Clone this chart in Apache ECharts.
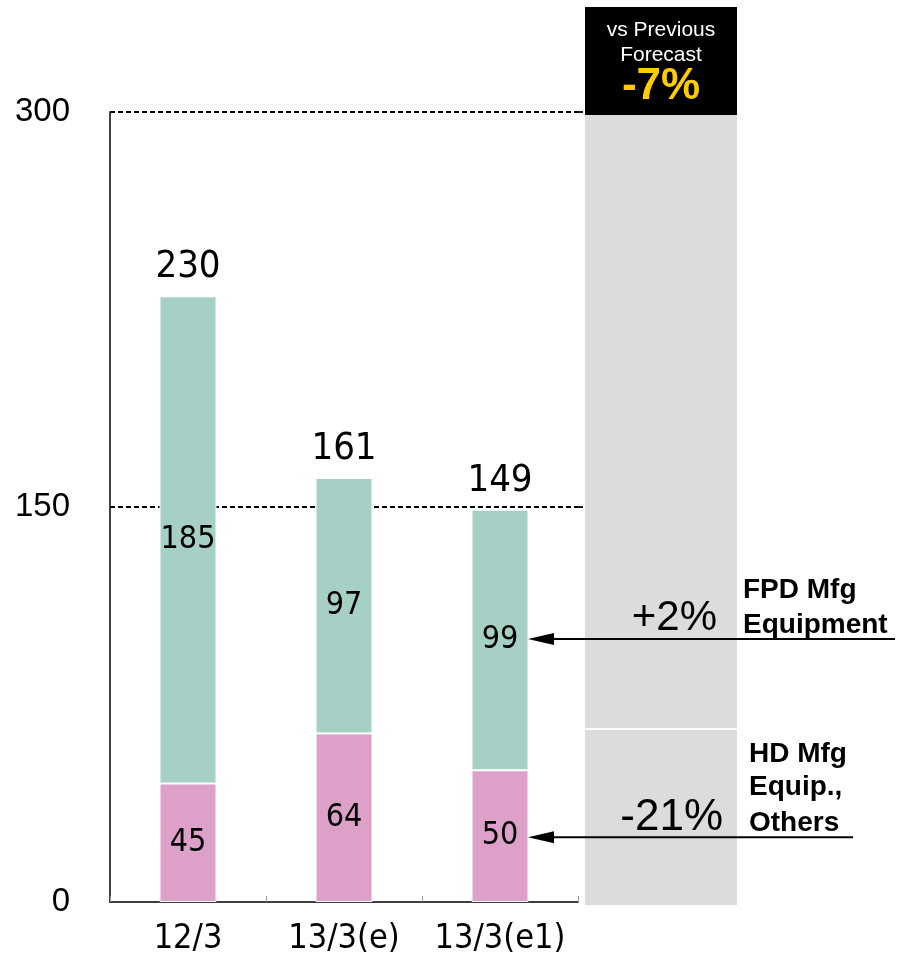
<!DOCTYPE html>
<html>
<head>
<meta charset="utf-8">
<style>
  html, body { margin: 0; padding: 0; background: #fff; }
  #chart { width: 913px; height: 963px; }
</style>
<script src="https://cdn.jsdelivr.net/npm/echarts@6/dist/echarts.min.js"></script>
</head>
<body>
<div id="chart"></div>
<script>
// Sales by segment (billion yen)
const categories = ['12/3', '13/3(e)', '13/3(e1)'];
const hdValues = [45, 64, 50];      // HD Mfg Equip., Others
const fpdValues = [185, 97, 99];    // FPD Mfg Equipment
const totals = [230, 161, 149];
const yTicks = [0, 150, 300];

const numFont = '"DejaVu Sans Condensed", "Liberation Sans Narrow", "Noto Sans CJK JP", sans-serif';
const latinFont = '"Liberation Sans", Arial, sans-serif';

const chart = echarts.init(document.getElementById('chart'));

const option = {
  animation: false,
  backgroundColor: '#fff',
  grid: { left: 110, right: 335, top: 112, bottom: 61 },
  xAxis: {
    type: 'category',
    data: categories,
    axisLine: { lineStyle: { color: '#000', width: 1.5 } },
    axisTick: { show: true, inside: true, length: 6, interval: 0, lineStyle: { color: '#999' } },
    axisLabel: { fontSize: 34, color: '#000', fontFamily: numFont, margin: 20, interval: 0 }
  },
  yAxis: {
    type: 'value',
    min: yTicks[0],
    max: yTicks[yTicks.length - 1],
    interval: yTicks[1] - yTicks[0],
    axisLine: { show: true, lineStyle: { color: '#000', width: 1.5 } },
    axisTick: { show: false },
    axisLabel: { fontSize: 33, color: '#000', fontFamily: latinFont, margin: 40 },
    splitLine: {
      show: true,
      lineStyle: { color: '#000', type: [5, 3], width: 1.8 },
      showMinLine: false
    }
  },
  series: [
    {
      name: 'HD Mfg Equip., Others',
      type: 'bar',
      stack: 'sales',
      barWidth: 57,
      data: hdValues,
      itemStyle: { color: '#dda0c8', borderColor: '#fff', borderWidth: 1 },
      label: { show: true, position: 'inside', fontSize: 32, color: '#000', fontFamily: numFont }
    },
    {
      name: 'FPD Mfg Equipment',
      type: 'bar',
      stack: 'sales',
      barWidth: 57,
      data: fpdValues,
      itemStyle: { color: '#a6cfc5', borderColor: '#fff', borderWidth: 1 },
      label: { show: true, position: 'inside', fontSize: 32, color: '#000', fontFamily: numFont }
    },
    {
      name: 'Total',
      type: 'bar',
      barWidth: 57,
      barGap: '-100%',
      data: totals,
      z: 1,
      itemStyle: { color: 'rgba(0,0,0,0)' },
      label: { show: true, position: 'top', distance: 10, fontSize: 38, color: '#000', fontFamily: numFont }
    }
  ]
};

chart.setOption(option);

// Side panel: change vs previous forecast, with arrows to the last bar's segments
const px = (v) => chart.convertToPixel({ yAxisIndex: 0 }, v);
const last = categories.length - 1;
const barRight = chart.convertToPixel({ xAxisIndex: 0 }, last) + 28;
const yFpd = px(hdValues[last] + fpdValues[last] / 2) - 1;
const yHd = px(hdValues[last] / 2) + 1;
const yTop = px(yTicks[yTicks.length - 1]);
const yBase = px(0);

const bandL = 585, bandR = 737;
const mid = (bandL + bandR) / 2;

function arrow(y, xEnd) {
  return [
    { type: 'line', shape: { x1: barRight + 22, y1: y, x2: xEnd, y2: y }, style: { stroke: '#000', lineWidth: 2 }, z: 10 },
    { type: 'polygon', shape: { points: [[barRight, y], [barRight + 26, y - 6], [barRight + 26, y + 6]] }, style: { fill: '#000' }, z: 10 }
  ];
}

function label(x, y, text, font, align, fill) {
  return { type: 'text', x: x, y: y, z: 6,
    style: { text: text, fill: fill || '#000', font: font, align: align, verticalAlign: 'middle' } };
}

chart.setOption({
  graphic: [
    // dashed guide lines continue up to the panel edge
    { type: 'line', shape: { x1: 578, y1: yTop, x2: bandL - 1, y2: yTop }, style: { stroke: '#000', lineWidth: 1.8, lineDash: [5, 3] } },
    { type: 'line', shape: { x1: 578, y1: px(150), x2: bandL - 1, y2: px(150) }, style: { stroke: '#000', lineWidth: 1.8, lineDash: [5, 3] } },

    { type: 'rect', shape: { x: bandL, y: yTop + 3, width: bandR - bandL, height: yBase - yTop }, style: { fill: '#dcdcdc' }, z: -1 },
    { type: 'line', shape: { x1: bandL, y1: 729, x2: bandR, y2: 729 }, style: { stroke: '#fff', lineWidth: 2 }, z: 0 },
    { type: 'rect', shape: { x: bandL, y: 7, width: bandR - bandL, height: yTop + 3 - 7 }, style: { fill: '#000' }, z: 5 },
    label(mid, 30, 'vs Previous', '21px ' + latinFont, 'center', '#fff'),
    label(mid, 55, 'Forecast', '21px ' + latinFont, 'center', '#fff'),
    label(mid, 87, '-7%', 'bold 44px ' + latinFont, 'center', '#ffcc00'),

    label(717, 618, '+2%', '42px ' + latinFont, 'right'),
    label(743, 590, 'FPD Mfg', 'bold 28px ' + latinFont, 'left'),
    label(743, 625, 'Equipment', 'bold 28px ' + latinFont, 'left'),

    label(723, 818, '-21%', '44px ' + latinFont, 'right'),
    label(749, 754, 'HD Mfg', 'bold 28px ' + latinFont, 'left'),
    label(749, 787, 'Equip.,', 'bold 28px ' + latinFont, 'left'),
    label(749, 823, 'Others', 'bold 28px ' + latinFont, 'left'),

    ...arrow(yFpd, 895),
    ...arrow(yHd, 853)
  ]
});
</script>
</body>
</html>
